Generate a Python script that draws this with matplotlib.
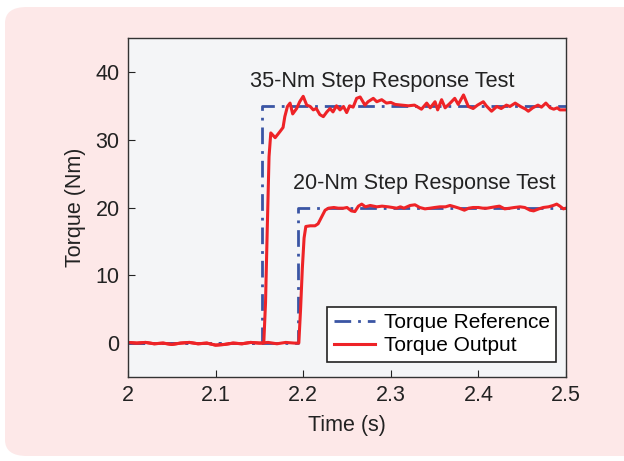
import matplotlib
matplotlib.use("Agg")
import matplotlib.pyplot as plt
from matplotlib.patches import FancyBboxPatch

plt.rcParams['font.family'] = ['Liberation Sans', 'DejaVu Sans']

# reference steps
t_ref35 = [2.0, 2.1525, 2.1525, 2.5]
v_ref35 = [0, 0, 35, 35]
t_ref20 = [2.0, 2.1945, 2.1945, 2.5]
v_ref20 = [0, 0, 20, 20]

# common baseline before the steps
t_base = [2.000, 2.010, 2.020, 2.030, 2.040, 2.050, 2.060, 2.070,
          2.080, 2.090, 2.100, 2.110, 2.120, 2.130, 2.140, 2.150]
v_base = [0.1, 0.0, 0.1, -0.1, 0.0, -0.2, 0.0, 0.1,
          -0.1, 0.0, -0.3, -0.2, 0.0, -0.1, 0.1, 0.0]

# 35 Nm output
t_out35 = [2.155, 2.157, 2.159, 2.161, 2.163, 2.168, 2.1735, 2.177, 2.179, 2.182,
           2.185, 2.188, 2.1925, 2.196, 2.200, 2.204, 2.208, 2.2115, 2.215, 2.219,
           2.223, 2.227, 2.2306, 2.234, 2.238, 2.242, 2.246, 2.2496, 2.253, 2.257,
           2.261, 2.265, 2.2705, 2.274, 2.280, 2.284, 2.2896, 2.295, 2.300, 2.305,
           2.3124, 2.320, 2.327, 2.335, 2.341, 2.345, 2.3505, 2.3535, 2.358, 2.362,
           2.367, 2.373, 2.377, 2.383, 2.3885, 2.394, 2.399, 2.4056, 2.409, 2.415,
           2.421, 2.426, 2.432, 2.436, 2.442, 2.448, 2.454, 2.457, 2.462, 2.468,
           2.472, 2.477, 2.482, 2.486, 2.490, 2.493, 2.500]
v_out35 = [0.0, 6.0, 17.0, 27.5, 31.0, 30.3, 31.2, 31.8, 33.4, 34.9,
           35.4, 33.8, 34.6, 35.6, 36.4, 35.1, 34.9, 34.4, 34.6, 33.7,
           33.4, 34.1, 34.6, 34.1, 35.0, 34.4, 34.9, 34.0, 35.0, 34.8,
           36.1, 36.3, 35.1, 35.6, 36.1, 35.6, 35.9, 35.4, 35.5, 35.2,
           35.1, 35.0, 35.1, 34.5, 35.4, 34.7, 35.6, 34.4, 35.9, 34.7,
           35.3, 36.1, 35.2, 36.6, 34.9, 34.6, 35.1, 35.6, 35.0, 34.2,
           34.9, 34.6, 35.1, 34.9, 35.4, 34.9, 34.5, 34.2, 34.7, 35.1,
           34.8, 35.4, 34.7, 34.5, 34.7, 34.4, 34.4]

# 20 Nm output
t_out20 = [2.160, 2.170, 2.180, 2.190, 2.195, 2.197, 2.199, 2.201, 2.203, 2.208,
           2.2135, 2.217, 2.221, 2.225, 2.229, 2.235, 2.240, 2.246, 2.250, 2.255,
           2.259, 2.263, 2.2668, 2.271, 2.2765, 2.284, 2.290, 2.297, 2.302, 2.3067,
           2.311, 2.315, 2.322, 2.3276, 2.333, 2.339, 2.345, 2.350, 2.356, 2.3625,
           2.3676, 2.373, 2.378, 2.384, 2.389, 2.394, 2.400, 2.405, 2.410, 2.419,
           2.424, 2.430, 2.436, 2.441, 2.4475, 2.453, 2.459, 2.463, 2.469, 2.474,
           2.480, 2.4855, 2.4894, 2.493, 2.497, 2.500]
v_out20 = [0.1, -0.1, 0.1, 0.0, 0.0, 5.0, 11.0, 15.5, 17.2, 17.3,
           17.3, 17.6, 18.6, 19.6, 19.9, 20.0, 19.9, 19.9, 20.0, 19.5,
           19.4, 20.2, 20.5, 20.1, 20.3, 20.1, 20.2, 20.1, 20.0, 19.9,
           20.1, 19.9, 20.3, 20.4, 20.0, 19.8, 19.9, 20.0, 20.1, 20.1,
           20.3, 20.1, 19.9, 19.6, 19.9, 20.0, 20.0, 19.9, 19.9, 20.1,
           20.2, 19.8, 19.9, 20.0, 20.1, 20.0, 19.6, 19.5, 19.8, 20.0,
           20.1, 20.3, 20.5, 20.2, 19.8, 19.9]

xticks = [2, 2.1, 2.2, 2.3, 2.4, 2.5]
xticklabels = ['2', '2.1', '2.2', '2.3', '2.4', '2.5']
yticks = [0, 10, 20, 30, 40]

blue = '#3a55a4'
red = '#ee2327'
pink = '#fde8e8'

fig = plt.figure(figsize=(6.24, 4.61), dpi=100)
fig.patch.set_facecolor('white')
# rounded pink panel behind everything
panel = FancyBboxPatch((5/624, 5/461), 1.2, 449/461,
                       boxstyle='round,pad=0,rounding_size=0.035',
                       transform=fig.transFigure, facecolor=pink,
                       edgecolor='none', zorder=-10)
fig.patches.append(panel)

ax = fig.add_axes([128/624, 1 - 377/461, 438/624, 339/461])
ax.set_facecolor('#f4f5f7')

ax.plot(t_ref35, v_ref35, color=blue, lw=2, ls=(0, (6, 2.5, 1, 2.5)),
        label='Torque Reference')
ax.plot(t_ref20, v_ref20, color=blue, lw=2, ls=(0, (6, 2.5, 1, 2.5)))
ax.plot(t_base + t_out35, v_base + v_out35, color=red, lw=2.2,
        label='Torque Output')
ax.plot(t_base + t_out20, v_base + v_out20, color=red, lw=2.2)

ax.text(2.139, 38.6, '35-Nm Step Response Test', fontsize=15.7,
        va='center', ha='left', color='#222222')
ax.text(2.188, 23.6, '20-Nm Step Response Test', fontsize=15.5,
        va='center', ha='left', color='#222222')

ax.set_xlim(2, 2.5)
ax.set_ylim(-5, 45)
ax.set_xticks(xticks)
ax.set_xticklabels(xticklabels)
ax.set_yticks(yticks)
ax.tick_params(direction='in', length=5, labelsize=15.5, colors='#222222',
               pad=6)
for sp in ax.spines.values():
    sp.set_color('#333333')
    sp.set_linewidth(1)

ax.set_xlabel('Time (s)', fontsize=15.5, color='#222222', labelpad=6)
ax.set_ylabel('Torque (Nm)', fontsize=15.5, color='#222222', labelpad=7)

leg = ax.legend(loc='lower right', bbox_to_anchor=(0.977, 0.045),
                fontsize=15, frameon=True, fancybox=False,
                handlelength=2.0, handletextpad=0.4, borderpad=0.3,
                labelspacing=0.2, borderaxespad=0)
leg.get_frame().set_edgecolor('#222222')
leg.get_frame().set_linewidth(1.2)
leg.get_frame().set_facecolor('white')
leg.get_frame().set_alpha(1)

fig.savefig('out.png', dpi=100)
